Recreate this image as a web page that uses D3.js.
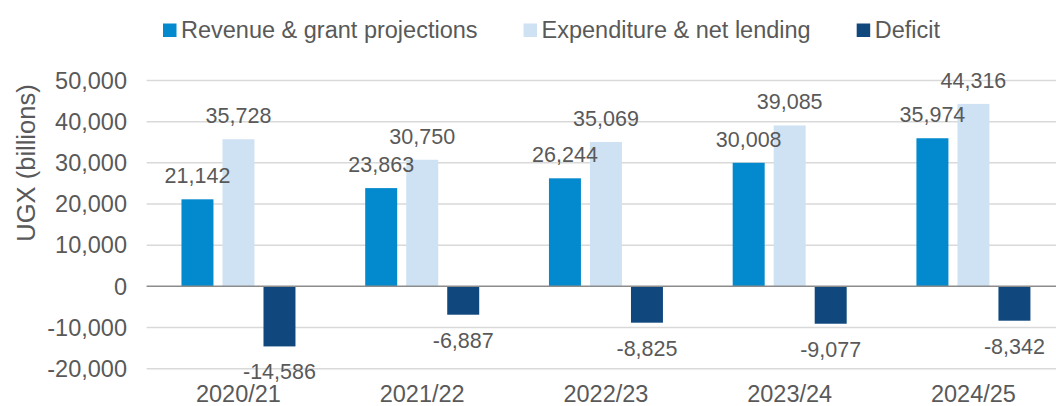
<!DOCTYPE html>
<html>
<head>
<meta charset="utf-8">
<script src="https://cdn.jsdelivr.net/npm/d3@7"></script>
<style>
  body { margin: 0; background: #fff; }
  svg text { font-family: "Liberation Sans", Arial, sans-serif; fill: #595959; }
</style>
</head>
<body>
<svg id="chart" width="1056" height="406"></svg>
<script>
'use strict';

// data
const years = ["2020/21", "2021/22", "2022/23", "2023/24", "2024/25"];
const seriesNames = ["Revenue & grant projections", "Expenditure & net lending", "Deficit"];
const revenue = [21142, 23863, 26244, 30008, 35974];
const expenditure = [35728, 30750, 35069, 39085, 44316];
const deficit = [-14586, -6887, -8825, -9077, -8342];
const yTicks = [-20000, -10000, 0, 10000, 20000, 30000, 40000, 50000];
const colors = ["#0389cd", "#cfe2f3", "#10487e"];

const seriesValues = [revenue, expenditure, deficit];

const svg = d3.select("#chart");
// plain hyphen for negatives, like the original
const fmt = d3.formatLocale({ decimal: ".", thousands: ",", grouping: [3], currency: ["", ""], minus: "-" }).format(",");

// scales
const x0 = d3.scaleBand()
    .domain(years)
    .range([146.6, 1065.3]);

const x1 = d3.scaleBand()
    .domain(seriesNames)
    .range([-57, 57])
    .paddingInner(0.22);

const y = d3.scaleLinear()
    .domain([-20000, 50000])
    .range([368.7, 80.5]);

// gridlines
svg.append("g")
    .selectAll("line")
    .data(yTicks.filter(function(d) { return d !== 0; }))
    .enter().append("line")
    .attr("x1", x0.range()[0])
    .attr("x2", x0.range()[1])
    .attr("y1", function(d) { return y(d); })
    .attr("y2", function(d) { return y(d); })
    .style("stroke", "#d9d9d9")
    .style("stroke-width", 1.5);

// y tick labels
svg.append("g")
    .selectAll("text")
    .data(yTicks)
    .enter().append("text")
    .attr("x", 127)
    .attr("y", function(d) { return y(d) + 8.3; })
    .attr("text-anchor", "end")
    .style("font-size", "23.5px")
    .text(function(d) { return fmt(d); });

// y axis title
svg.append("text")
    .attr("transform", "translate(35,163) rotate(-90)")
    .attr("text-anchor", "middle")
    .style("font-size", "25.5px")
    .text("UGX (billions)");

// bars
const groups = svg.append("g")
    .selectAll("g")
    .data(years)
    .enter().append("g")
    .attr("transform", function(d) { return "translate(" + (x0(d) + x0.bandwidth() / 2) + ",0)"; });

groups.selectAll("rect")
    .data(function(d, i) {
      return seriesNames.map(function(s, k) { return { name: s, value: seriesValues[k][i], k: k }; });
    })
    .enter().append("rect")
    .attr("x", function(d) { return x1(d.name); })
    .attr("width", x1.bandwidth())
    .attr("y", function(d) { return y(Math.max(0, d.value)); })
    .attr("height", function(d) { return Math.abs(y(d.value) - y(0)); })
    .style("fill", function(d) { return colors[d.k]; });

// data labels
groups.selectAll("text")
    .data(function(d, i) {
      return seriesNames.map(function(s, k) { return { name: s, value: seriesValues[k][i], k: k }; });
    })
    .enter().append("text")
    .attr("x", function(d) { return x1(d.name) + x1.bandwidth() / 2; })
    .attr("y", function(d) { return d.value >= 0 ? y(d.value) - 16 : y(d.value) + 33; })
    .attr("text-anchor", "middle")
    .style("font-size", "21.5px")
    .text(function(d) { return fmt(d.value); });

// zero line
svg.append("line")
    .attr("x1", x0.range()[0])
    .attr("x2", x0.range()[1])
    .attr("y1", y(0))
    .attr("y2", y(0))
    .style("stroke", "#8c8c8c")
    .style("stroke-width", 1.5);

// category labels
svg.append("g")
    .selectAll("text")
    .data(years)
    .enter().append("text")
    .attr("x", function(d) { return x0(d) + x0.bandwidth() / 2; })
    .attr("y", 402)
    .attr("text-anchor", "middle")
    .style("font-size", "23.5px")
    .text(function(d) { return d; });

// legend
const legend = svg.append("g");
let lx = 163;
seriesNames.forEach(function(name, k) {
  legend.append("rect")
      .attr("x", lx)
      .attr("y", 23.5)
      .attr("width", 13.5)
      .attr("height", 13.5)
      .style("fill", colors[k]);
  const t = legend.append("text")
      .attr("x", lx + 18)
      .attr("y", 38)
      .style("font-size", "23.5px")
      .text(name);
  lx = lx + 18 + t.node().getComputedTextLength() + 46;
});
</script>
</body>
</html>
